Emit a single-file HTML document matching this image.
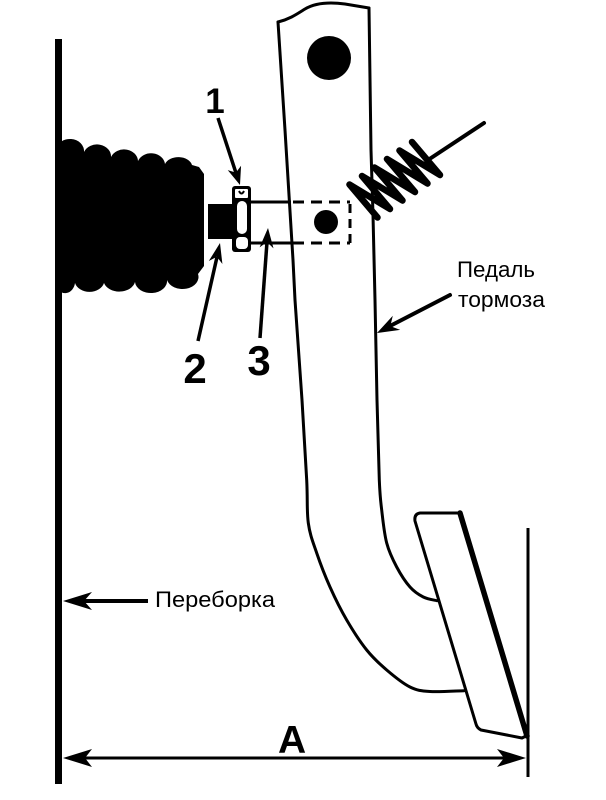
<!DOCTYPE html>
<html>
<head>
<meta charset="utf-8">
<style>
html,body{margin:0;padding:0;background:#fff;}
svg{display:block;}
text{font-family:"Liberation Sans", sans-serif;fill:#000;}
</style>
</head>
<body>
<svg width="606" height="800" viewBox="0 0 606 800" xmlns="http://www.w3.org/2000/svg">
<rect width="606" height="800" fill="#fff"/>

<!-- Bulkhead wall -->
<rect x="55" y="39" width="7" height="745" fill="#000"/>

<!-- Bellows (booster boot) -->
<path fill="#000" d="M 56,150
 A 14 12 0 0 1 84,152
 A 14 12 0 0 1 111,157
 A 14 12 0 0 1 138,161
 A 14 12 0 0 1 165,164
 A 14 10 0 0 1 192,165
 L 199,167 L 204,174 L 204,266 L 198,274
 A 16 12 0 0 1 167,280
 A 16 12 0 0 1 135,282
 A 16 12 0 0 1 104,283
 A 15 12 0 0 1 75,283
 A 10 12 0 0 1 56,286 Z"/>

<!-- Thread (2) -->
<rect x="208" y="204" width="25" height="35" fill="#000"/>

<!-- Nut (1) -->
<rect x="232" y="186" width="19" height="66" rx="3" fill="#000"/>
<rect x="235" y="189" width="13" height="9" rx="1" fill="#fff"/>
<path d="M 239,191 Q 241.5,196 244,191" stroke="#000" stroke-width="2" fill="none"/>
<rect x="237" y="201" width="10" height="33" rx="5" fill="#fff"/>
<rect x="236" y="237" width="12" height="12" rx="4" fill="#fff"/>

<!-- Rod (3) with hidden part dashed -->
<g stroke="#000" stroke-width="3" fill="none">
 <line x1="251" y1="202" x2="291" y2="202"/>
 <line x1="251" y1="243" x2="291" y2="243"/>
 <line x1="293" y1="202" x2="350" y2="202" stroke-dasharray="11 7"/>
 <line x1="293" y1="243" x2="350" y2="243" stroke-dasharray="11 7"/>
 <line x1="350" y1="204" x2="350" y2="243" stroke-dasharray="9 6"/>
</g>
<circle cx="326" cy="222" r="12" fill="#000"/>

<!-- Pedal arm -->
<g stroke="#000" stroke-width="3" fill="none" stroke-linejoin="round" stroke-linecap="round">
 <path d="M 278,22 C 290,19 297,14 305,9 C 315,3 330,2 345,4 L 369,8"/>
 <path d="M 278,22 L 285,130 L 293,260 L 295,300 L 302,400 L 306.7,480
  C 307.75,500.5 306.63,510.8 308.3,523
  C 309.97,535.17 313.08,542.33 316.7,553
  C 320.32,563.67 325,575.83 330,587
  C 335,598.17 340.58,609.5 346.7,620
  C 352.82,630.5 360.03,641.67 366.7,650
  C 373.37,658.33 379.48,663.83 386.7,670
  C 393.92,676.17 402.78,683.42 410,687
  C 417.22,690.58 421,690.88 430,691.5
  C 439,692.12 458.3,690.8 464,690.7"/>
 <path d="M 369,8 L 371,150 L 373,215 L 375,300 L 377,400 L 379.3,480
  C 380.08,498.33 380.47,499.5 381.7,510
  C 382.93,520.5 384.2,533.5 386.7,543
  C 389.2,552.5 392.82,559.67 396.7,567
  C 400.58,574.33 405.57,582 410,587
  C 414.43,592 418.8,594.72 423.3,597
  C 427.8,599.28 434.7,600.1 437,600.7"/>
</g>
<circle cx="329" cy="58" r="22" fill="#000"/>

<!-- Pedal pad -->
<path d="M 420,513 L 460,513 L 526,736 L 522,738 L 481,730 Q 477,728 476,724 L 415,521 Q 414,514 420,513 Z" fill="#fff" stroke="#000" stroke-width="3" stroke-linejoin="round"/>
<line x1="460" y1="513" x2="527" y2="736" stroke="#000" stroke-width="5.5" stroke-linecap="round"/>

<!-- Right reference line -->
<line x1="528" y1="528" x2="528" y2="777" stroke="#000" stroke-width="3"/>

<!-- Spring -->
<path fill="none" stroke="#000" stroke-width="6.5" stroke-linejoin="round" stroke-linecap="round"
 d="M 412,142 L 440,175 L 399.5,150.5 L 427.5,183.5 L 387,159 L 415,192 L 374.5,167.5 L 402.5,200.5 L 362,176 L 390,209 L 349.5,184.5 L 377.5,217.5"/>
<line x1="428" y1="160" x2="484" y2="123" stroke="#000" stroke-width="4" stroke-linecap="round"/>

<!-- Arrow 1 -->
<line x1="218" y1="118" x2="236" y2="173" stroke="#000" stroke-width="3.5"/>
<polygon points="240,185 241.05,165.7 235.9,172.6 227.75,170.1" fill="#000"/>
<!-- Arrow 2 -->
<line x1="198" y1="341" x2="217" y2="257" stroke="#000" stroke-width="3.5"/>
<polygon points="220,243 222.4,264 216.9,256.7 208.8,261" fill="#000"/>
<!-- Arrow 3 -->
<line x1="260" y1="338" x2="267" y2="242" stroke="#000" stroke-width="3.5"/>
<polygon points="268,228 273.5,248.4 267,242 259.6,247.4" fill="#000"/>

<!-- Pedal label arrow -->
<line x1="450" y1="295" x2="390" y2="326" stroke="#000" stroke-width="4" stroke-linecap="round"/>
<polygon points="377,333 400.2,329.9 390.3,326.1 392.8,315.7" fill="#000"/>

<!-- Bulkhead label arrow -->
<line x1="84" y1="601" x2="148" y2="601" stroke="#000" stroke-width="4"/>
<polygon points="63,601 92,592 84,601 92,610" fill="#000"/>

<!-- Dimension A -->
<line x1="84" y1="758" x2="505" y2="758" stroke="#000" stroke-width="3"/>
<polygon points="63,758 92,749 85,758 92,767" fill="#000"/>
<polygon points="526,758 497,749 504,758 497,767" fill="#000"/>

<!-- Labels -->
<text x="215" y="113" font-size="35" font-weight="bold" text-anchor="middle">1</text>
<text x="195" y="383" font-size="42" font-weight="bold" text-anchor="middle">2</text>
<text x="259" y="375" font-size="42" font-weight="bold" text-anchor="middle">3</text>
<text x="278" y="753" font-size="39" font-weight="bold">A</text>
<text x="457" y="277" font-size="22" textLength="78" lengthAdjust="spacingAndGlyphs">Педаль</text>
<text x="458" y="307" font-size="22" textLength="87" lengthAdjust="spacingAndGlyphs">тормоза</text>
<text x="155" y="607" font-size="22" textLength="120" lengthAdjust="spacingAndGlyphs">Переборка</text>
</svg>
</body>
</html>
